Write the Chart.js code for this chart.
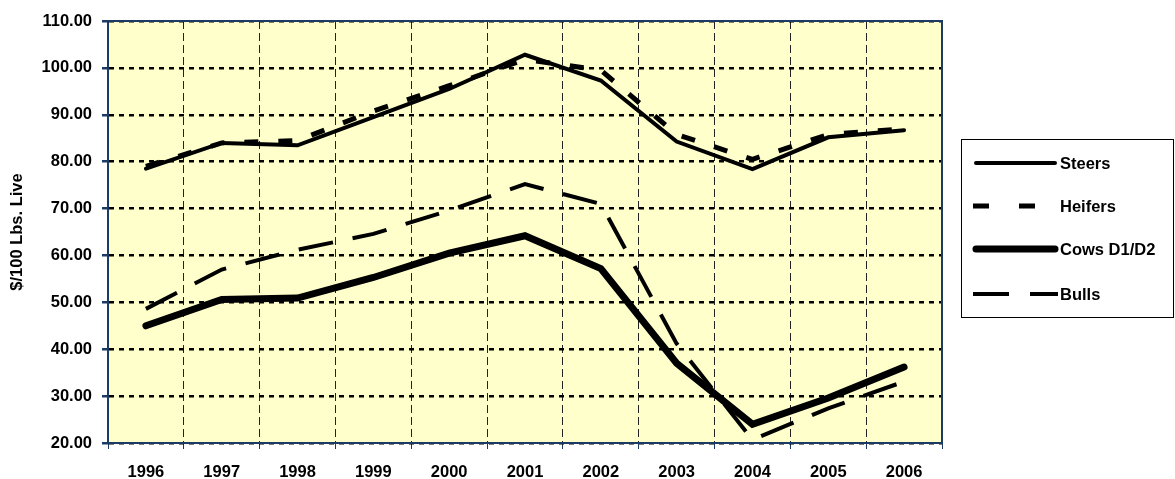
<!DOCTYPE html>
<html>
<head>
<meta charset="utf-8">
<script src="https://cdn.jsdelivr.net/npm/chart.js@4"></script>
<style>
    html, body { margin: 0; padding: 0; background: #ffffff; }
    #wrap { width: 1175px; height: 479px; }
</style>
</head>
<body>
<div id="wrap"><canvas id="priceChart" width="1175" height="479"></canvas></div>
<script>

const years = ["1996", "1997", "1998", "1999", "2000", "2001", "2002", "2003", "2004", "2005", "2006"];

const steers  = [78.5, 84.0, 83.5, 89.5, 95.5, 102.8, 97.3, 84.3, 78.4, 85.2, 86.7];
const heifers = [79.0, 84.0, 84.5, 90.8, 96.2, 101.8, 99.5, 85.8, 80.5, 85.8, 87.0];
const cows    = [45.0, 50.6, 50.9, 55.3, 60.5, 64.2, 57.2, 37.0, 24.0, 29.6, 36.2];
const bulls   = [48.6, 57.0, 61.2, 64.6, 69.6, 75.2, 71.0, 41.2, 20.7, 27.4, 33.1];

const yTicks = [20, 30, 40, 50, 60, 70, 80, 90, 100, 110];

const FONT = "'Liberation Sans', Arial, sans-serif";
const NAVY = "#1b3a64";

// ======================================
// Plot background + frame
// ======================================

const plotFrame = {
    id: "plotFrame",
    beforeDraw(chart) {
        const a = chart.chartArea;
        const ctx = chart.ctx;
        ctx.save();
        ctx.fillStyle = "#ffffcc";
        ctx.fillRect(a.left, a.top, a.right - a.left, a.bottom - a.top);
        ctx.restore();
    },
    afterDraw(chart) {
        const a = chart.chartArea;
        const ctx = chart.ctx;
        ctx.save();
        ctx.strokeStyle = NAVY;
        ctx.lineWidth = 2;
        ctx.strokeRect(a.left, a.top, a.right - a.left, a.bottom - a.top);
        ctx.restore();
    }
};

// ======================================
// Legend box on the right
// ======================================

const legendItems = [
    { label: "Steers",     width: 4, dash: [],       cap: "round", y: 163 },
    { label: "Heifers",    width: 5, dash: [16, 30], cap: "butt",  y: 206 },
    { label: "Cows D1/D2", width: 7, dash: [],       cap: "round", y: 249 },
    { label: "Bulls",      width: 4, dash: [36, 21], cap: "butt",  y: 294 }
];

const boxLegend = {
    id: "boxLegend",
    afterDraw(chart) {
        const ctx = chart.ctx;
        ctx.save();
        ctx.strokeStyle = "#000000";
        ctx.lineWidth = 1;
        ctx.setLineDash([]);
        ctx.strokeRect(961.5, 139.5, 212, 178);

        ctx.font = "bold 16.5px " + FONT;
        ctx.textBaseline = "middle";
        ctx.textAlign = "left";
        ctx.fillStyle = "#000000";

        legendItems.forEach(item => {
            ctx.beginPath();
            ctx.lineWidth = item.width;
            ctx.lineCap = item.cap;
            ctx.setLineDash(item.dash);
            const x0 = item.cap === "round" ? 976 : 973;
            ctx.moveTo(x0, item.y);
            ctx.lineTo(item.cap === "round" ? 1055 : 1058, item.y);
            ctx.stroke();
            ctx.setLineDash([]);
            ctx.fillText(item.label, 1060, item.y + 1);
        });
        ctx.restore();
    }
};

const ctx = document.getElementById("priceChart").getContext("2d");

new Chart(ctx, {

    type: "line",

    data: {
        labels: years,
        datasets: [
            {
                label: "Steers",
                data: steers,
                borderColor: "#000000",
                borderWidth: 4,
                borderCapStyle: "round",
                borderJoinStyle: "miter",
                pointRadius: 0,
                tension: 0
            },
            {
                label: "Heifers",
                data: heifers,
                borderColor: "#000000",
                borderWidth: 5,
                borderDash: [14, 20],
                pointRadius: 0,
                tension: 0
            },
            {
                label: "Cows D1/D2",
                data: cows,
                borderColor: "#000000",
                borderWidth: 7,
                borderCapStyle: "round",
                borderJoinStyle: "miter",
                pointRadius: 0,
                tension: 0
            },
            {
                label: "Bulls",
                data: bulls,
                borderColor: "#000000",
                borderWidth: 4,
                borderDash: [35, 20],
                pointRadius: 0,
                tension: 0
            }
        ]
    },

    options: {
        responsive: false,
        animation: false,
        events: [],
        layout: {
            padding: { left: 0, right: 233, top: 21, bottom: 0 }
        },
        plugins: {
            legend: { display: false },
            tooltip: { enabled: false }
        },
        scales: {
            x: {
                type: "category",
                offset: true,
                afterFit(scale) { scale.height = 36; },
                grid: {
                    offset: true,
                    color: "#222222",
                    lineWidth: 1,
                    drawTicks: true,
                    tickLength: 6,
                    tickColor: NAVY,
                    tickBorderDash: []
                },
                border: { display: true, color: NAVY, width: 2, dash: [8, 4] },
                ticks: {
                    color: "#000000",
                    padding: 14,
                    maxRotation: 0,
                    autoSkip: false,
                    font: { family: FONT, size: 16.5, weight: "bold" }
                }
            },
            y: {
                min: 20,
                max: 110,
                afterFit(scale) { scale.width = 108; },
                afterBuildTicks(scale) {
                    scale.ticks = yTicks.map(v => ({ value: v }));
                },
                grid: {
                    color: "#000000",
                    lineWidth: 2.5,
                    drawTicks: true,
                    tickLength: 6,
                    tickColor: NAVY,
                    tickBorderDash: []
                },
                border: { display: true, color: NAVY, width: 2, dash: [5, 5] },
                ticks: {
                    color: "#000000",
                    padding: 10,
                    font: { family: FONT, size: 16.5, weight: "bold" },
                    callback: v => Number(v).toFixed(2)
                },
                title: {
                    display: true,
                    text: "$/100 Lbs. Live",
                    color: "#000000",
                    padding: { top: 8, bottom: 0 },
                    font: { family: FONT, size: 16.5, weight: "bold" }
                }
            }
        }
    },

    plugins: [plotFrame, boxLegend]

});

</script>
</body>
</html>
